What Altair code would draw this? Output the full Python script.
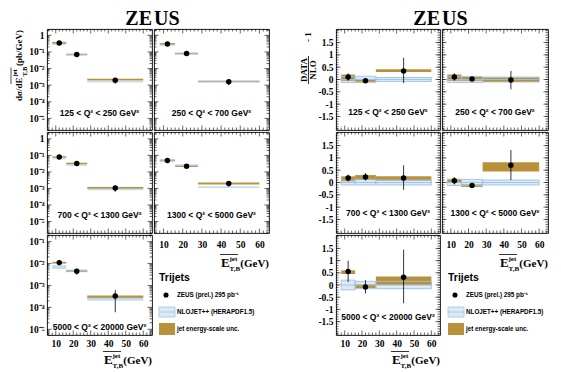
import altair as alt
import pandas as pd

SERIF = "Liberation Serif"
SANS = "Liberation Sans"
GOLD = "#b8913a"
BLUE_LINE = "#9cc2e5"
BLUE_FILL = "#dde9f6"
BLUE_BAND = "#a7c9ea"

# ---------------- data ----------------
BIN_LO = [8, 16, 28]
BIN_HI = [16, 28, 60]
BIN_MID = [12, 22, 44]

Q2_LABELS = [
    "125 < Q² < 250 GeV²",
    "250 < Q² < 700 GeV²",
    "700 < Q² < 1300 GeV²",
    "1300 < Q² < 5000 GeV²",
    "5000 < Q² < 20000 GeV²",
]

# cross sections dσ/dE (pb/GeV), one list per Q² panel
XS_DATA = [[0.34, 0.07, 1.95e-3], [0.30, 0.08, 1.62e-3], [0.080, 0.032, 1.05e-3],
           [0.049, 0.022, 2.0e-3], [1.1e-2, 4.4e-3, 3.3e-4]]
XS_ERR_LO = [[0.295, 0.066, 1.22e-3], [0.256, 0.074, 1.0e-3], [0.071, 0.028, 6.2e-4],
             [0.042, 0.0195, 1.3e-3], [8.2e-3, 3.1e-3, 6e-5]]
XS_ERR_HI = [[0.39, 0.074, 2.73e-3], [0.34, 0.086, 2.2e-3], [0.090, 0.036, 1.5e-3],
             [0.056, 0.0245, 2.74e-3], [1.42e-2, 5.8e-3, 6.1e-4]]
XS_NLO_LO = [[0.26, 0.062, 1.45e-3], [0.23, 0.068, 1.5e-3], [0.058, 0.023, 7.8e-4],
             [0.040, 0.022, 1.05e-3], [5.6e-3, 4.0e-3, 2.0e-4]]
XS_NLO_HI = [[0.33, 0.08, 1.8e-3], [0.30, 0.088, 1.9e-3], [0.072, 0.029, 9.6e-4],
             [0.052, 0.029, 1.35e-3], [8.5e-3, 5.4e-3, 2.8e-4]]
XS_JES_LO = [[0.31, 0.063, 1.9e-3], [0.27, 0.072, 1.5e-3], [0.072, 0.029, 9.6e-4],
             [0.045, 0.020, 1.7e-3], [1.0e-2, 4.1e-3, 2.6e-4]]
XS_JES_HI = [[0.40, 0.077, 2.4e-3], [0.34, 0.09, 1.85e-3], [0.088, 0.036, 1.2e-3],
             [0.056, 0.024, 2.3e-3], [1.2e-2, 5.0e-3, 3.5e-4]]

# DATA/NLO - 1
R_DATA = [[0.1, -0.05, 0.35], [0.1, 0.02, -0.02], [0.18, 0.22, 0.18],
          [0.07, -0.12, 0.7], [0.55, -0.08, 0.32]]
R_ERR_LO = [[-0.05, -0.1, -0.15], [-0.05, -0.05, -0.4], [0.05, 0.08, -0.3],
            [-0.08, -0.22, 0.1], [0.12, -0.35, -0.75]]
R_ERR_HI = [[0.25, 0.0, 0.88], [0.25, 0.1, 0.35], [0.32, 0.38, 0.7],
            [0.22, -0.02, 1.32], [1.0, 0.2, 1.45]]
R_NLO_C = [0.0, 0.0, 0.0]
R_NLO_LO = [[-0.12, -0.1, -0.08], [-0.12, -0.12, -0.1], [-0.1, -0.1, -0.1],
            [-0.12, -0.12, -0.1], [-0.2, -0.15, -0.15]]
R_NLO_HI = [[0.12, 0.13, 0.08], [0.12, 0.12, 0.1], [0.1, 0.13, 0.1],
            [0.12, 0.12, 0.1], [0.2, 0.15, 0.15]]
R_JES_LO = [[-0.05, -0.12, 0.3], [-0.05, -0.05, -0.1], [0.05, 0.1, 0.08],
            [0.0, -0.18, 0.45], [0.45, -0.12, 0.0]]
R_JES_HI = [[0.2, 0.0, 0.42], [0.2, 0.1, 0.08], [0.25, 0.3, 0.25],
            [0.15, -0.08, 0.82], [0.6, 0.02, 0.35]]

# axes / ticks
X_DOMAIN = [5, 65]
X_MAJOR = [10, 20, 30, 40, 50, 60]
X_MINOR = [6, 8, 12, 14, 16, 18, 22, 24, 26, 28, 32, 34, 36, 38, 42, 44, 46, 48,
           52, 54, 56, 58, 62, 64]
LOG_DOMAINS = [[2e-6, 2.4], [2e-6, 2.4], [2e-6, 2.6], [2e-6, 2.6], [5.5e-6, 0.2]]
LOG_MAJOR = [1, 1e-1, 1e-2, 1e-3, 1e-4, 1e-5]
LOG_MINOR = [m * 10.0 ** e for e in range(-6, 1) for m in range(2, 10)]
R_DOMAIN = [-2.05, 2.05]
R_MAJOR = [-1.5, -1, -0.5, 0, 0.5, 1, 1.5]
R_MINOR = [round(-2.0 + 0.1 * k, 2) for k in range(41)]

# layout
XS_W = [105, 115]
R_W = [104, 106]
ROW_H = [101, 101, 100]
PANEL_ROW = [0, 0, 1, 1, 2]
PANEL_COL = [0, 1, 0, 1, 0]
XS_LABEL_OFF = [17, 17, 18, 18, 8]
R_LABEL_OFF = [18, 18, 20, 20, 18]

ONE = pd.DataFrame({"k": [0]})


def T(text, x, y, size, font=SERIF, weight="bold", align="left",
      baseline="alphabetic", angle=0, opacity=1):
    mk = dict(text=text, font=font, fontWeight=weight, fontSize=size, align=align,
              baseline=baseline, color="black", opacity=opacity)
    if angle:
        mk["angle"] = angle
    return alt.Chart(ONE).mark_text(**mk).encode(x=alt.value(x), y=alt.value(y))


def R(x, y, x2=None, y2=None, color="black", width=0.8, opacity=1):
    enc = dict(x=alt.value(x), y=alt.value(y))
    if x2 is not None:
        enc["x2"] = alt.value(x2)
    if y2 is not None:
        enc["y2"] = alt.value(y2)
    return alt.Chart(ONE).mark_rule(color=color, strokeWidth=width,
                                    opacity=opacity).encode(**enc)


def xtitle(W, H, dy):
    B = H + dy
    return [
        T("(GeV)", W, B, 11, align="right"),
        T("E", W - 48, B, 13),
        T("jet", W - 39.5, B - 6, 7),
        T("T,B", W - 39.5, B + 3.5, 7),
        R(W - 49, B - 12.5, x2=W - 31, width=0.8),
    ]


def legend(dx):
    return [
        T("Trijets", 5 + dx, 146, 10.5, font=SANS, baseline="middle"),
        alt.Chart(ONE).mark_point(filled=True, shape="circle", size=26, color="black",
                                  opacity=1).encode(x=alt.value(12 + dx), y=alt.value(163)),
        T("ZEUS (prel.) 295 pb⁻¹", 23 + dx, 163, 6.3, font=SANS, baseline="middle"),
        alt.Chart(ONE).mark_rect(color=BLUE_FILL, stroke=BLUE_LINE, strokeWidth=0.8).encode(
            x=alt.value(5 + dx), x2=alt.value(21 + dx), y=alt.value(175), y2=alt.value(185)),
        R(5 + dx, 180, x2=21 + dx, color=BLUE_LINE),
        T("NLOJET++ (HERAPDF1.5)", 23 + dx, 180, 6.3, font=SANS, baseline="middle"),
        alt.Chart(ONE).mark_rect(color=GOLD).encode(
            x=alt.value(5 + dx), x2=alt.value(21 + dx), y=alt.value(191), y2=alt.value(203)),
        T("jet energy-scale unc.", 23 + dx, 197, 6.3, font=SANS, baseline="middle"),
    ]


def ytitle_xs():
    return [
        T("dσ/dE", -25, 72, 9, angle=270),
        T("jet", -30.5, 47.5, 6.5, angle=270),
        T("T,B", -20, 47.5, 6.5, angle=270),
        T("(pb/GeV)", -25, 37, 9, angle=270),
        R(-36, 55, y2=38.5, width=0.7),
    ]


def ytitle_ratio():
    return [
        T("DATA", -29, 41, 9, align="center", angle=270),
        T("NLO", -20.5, 41, 9, align="center", angle=270),
        R(-27.5, 27, y2=55, width=0.8),
        T("- 1", -25.5, 8, 9, align="center", angle=270),
    ]


def build_panel(kind, i):
    row, col = PANEL_ROW[i], PANEL_COL[i]
    W = (XS_W if kind == "xs" else R_W)[col]
    H = ROW_H[row]
    show_x = i in (3, 4)
    show_y = col == 0

    xs = alt.Scale(domain=X_DOMAIN, nice=False, zero=False)
    xaxis = None
    if show_x:
        xaxis = alt.Axis(values=X_MAJOR, title=None, ticks=False, domain=False, grid=False,
                         labelFont=SERIF, labelFontWeight="bold", labelFontSize=9.5,
                         labelPadding=(6 if i == 3 else 3), labelColor="black",
                         labelOverlap=False, labelFlush=False)

    if kind == "xs":
        dom = LOG_DOMAINS[i]
        ys = alt.Scale(type="log", domain=dom, nice=False)
        ymaj = [v for v in LOG_MAJOR if dom[0] <= v <= dom[1]]
        ymin = [v for v in LOG_MINOR if dom[0] <= v <= dom[1]]
        lexpr = ("datum.value > 0.5 ? '1' : '10⁻' + ['', '¹', '²', '³', '⁴', '⁵', '⁶']"
                 "[round(-log(datum.value) / LN10)]")
        df = pd.DataFrame({"xlo": BIN_LO, "xhi": BIN_HI, "xc": BIN_MID,
                           "val": XS_DATA[i], "elo": XS_ERR_LO[i], "ehi": XS_ERR_HI[i],
                           "nlo": XS_NLO_LO[i], "nhi": XS_NLO_HI[i],
                           "jlo": XS_JES_LO[i], "jhi": XS_JES_HI[i]})
    else:
        ys = alt.Scale(domain=R_DOMAIN, nice=False, zero=False)
        ymaj = R_MAJOR
        ymin = R_MINOR
        lexpr = "toString(datum.value)"
        df = pd.DataFrame({"xlo": BIN_LO, "xhi": BIN_HI, "xc": BIN_MID,
                           "val": R_DATA[i], "elo": R_ERR_LO[i], "ehi": R_ERR_HI[i],
                           "nc": R_NLO_C, "nlo": R_NLO_LO[i], "nhi": R_NLO_HI[i],
                           "jlo": R_JES_LO[i], "jhi": R_JES_HI[i]})
    yaxis = None
    if show_y:
        yaxis = alt.Axis(values=ymaj, labelExpr=lexpr, title=None, ticks=False, domain=False,
                         grid=False, labelFont=SERIF, labelFontWeight="bold", labelFontSize=9.5,
                         labelPadding=3, labelColor="black", labelOverlap=False,
                         labelFlush=False)

    def X(f):
        return alt.X(f"{f}:Q", scale=xs, axis=xaxis)

    def Y(f):
        return alt.Y(f"{f}:Q", scale=ys, axis=yaxis)

    base = alt.Chart(df)
    layers = []
    if kind == "xs":
        layers.append(base.mark_rect(color=GOLD).encode(
            x=X("xlo"), x2="xhi:Q", y=Y("jlo"), y2="jhi:Q"))
        layers.append(base.mark_rect(color=BLUE_BAND, opacity=0.65).encode(
            x=X("xlo"), x2="xhi:Q", y=Y("nlo"), y2="nhi:Q"))
    else:
        layers.append(base.mark_rect(color=BLUE_FILL).encode(
            x=X("xlo"), x2="xhi:Q", y=Y("nlo"), y2="nhi:Q"))
        layers.append(base.mark_rect(color=GOLD).encode(
            x=X("xlo"), x2="xhi:Q", y=Y("jlo"), y2="jhi:Q"))
        layers.append(base.mark_rect(fillOpacity=0, stroke=BLUE_LINE, strokeWidth=0.9).encode(
            x=X("xlo"), x2="xhi:Q", y=Y("nlo"), y2="nhi:Q"))
        layers.append(base.mark_rule(color=BLUE_LINE, strokeWidth=0.9).encode(
            x=X("xlo"), x2="xhi:Q", y=Y("nc")))
    layers.append(base.mark_rule(color="black", strokeWidth=0.8).encode(
        x=X("xc"), y=Y("elo"), y2="ehi:Q"))
    layers.append(base.mark_point(filled=True, shape="circle", size=30, color="black",
                                  opacity=1).encode(x=X("xc"), y=Y("val")))

    # inward ticks on all four sides
    for vals, L in ((X_MAJOR, 4.5), (X_MINOR, 2.5)):
        d = alt.Chart(pd.DataFrame({"t": vals})).mark_rule(color="black", strokeWidth=0.6)
        layers.append(d.encode(x=X("t"), y=alt.value(H), y2=alt.value(H - L)))
        layers.append(d.encode(x=X("t"), y=alt.value(0), y2=alt.value(L)))
    for vals, L in ((ymaj, 4.5), (ymin, 2.5)):
        d = alt.Chart(pd.DataFrame({"t": vals})).mark_rule(color="black", strokeWidth=0.6)
        layers.append(d.encode(y=Y("t"), x=alt.value(0), x2=alt.value(L)))
        layers.append(d.encode(y=Y("t"), x=alt.value(W), x2=alt.value(W - L)))

    off = (XS_LABEL_OFF if kind == "xs" else R_LABEL_OFF)[i]
    layers.append(T(Q2_LABELS[i], W / 2, H - off, 8.5, font=SANS, align="center",
                    baseline="middle"))

    # equal left extents for the first column
    if col == 0:
        layers.append(R(-38, 10, y2=20, opacity=0))
    if i == 0:
        layers.append(T("ZE", W, -4, 20, align="right"))
        layers += ytitle_xs() if kind == "xs" else ytitle_ratio()
    if i == 1:
        layers.append(T("US", 0, -4, 20, align="left"))
    if i == 3:
        layers += xtitle(W, H, 34)
        layers += legend(0 if kind == "xs" else 1)
    if i == 4:
        layers += xtitle(W, H, 29)

    return alt.layer(*layers).properties(width=W, height=H)


def block(kind):
    p = [build_panel(kind, i) for i in range(5)]
    c1 = alt.vconcat(p[0], p[2], p[4], spacing=0)
    c2 = alt.vconcat(p[1], p[3], spacing=0)
    return alt.hconcat(c1, c2, spacing=0)


chart = alt.hconcat(block("xs"), block("ratio"), spacing=27).properties(
    padding={"left": 0, "top": 0, "right": 0, "bottom": 0}
).configure_view(stroke="black", strokeWidth=0.9)

chart.save("out.html", embed_options={"renderer": "svg", "actions": False})
